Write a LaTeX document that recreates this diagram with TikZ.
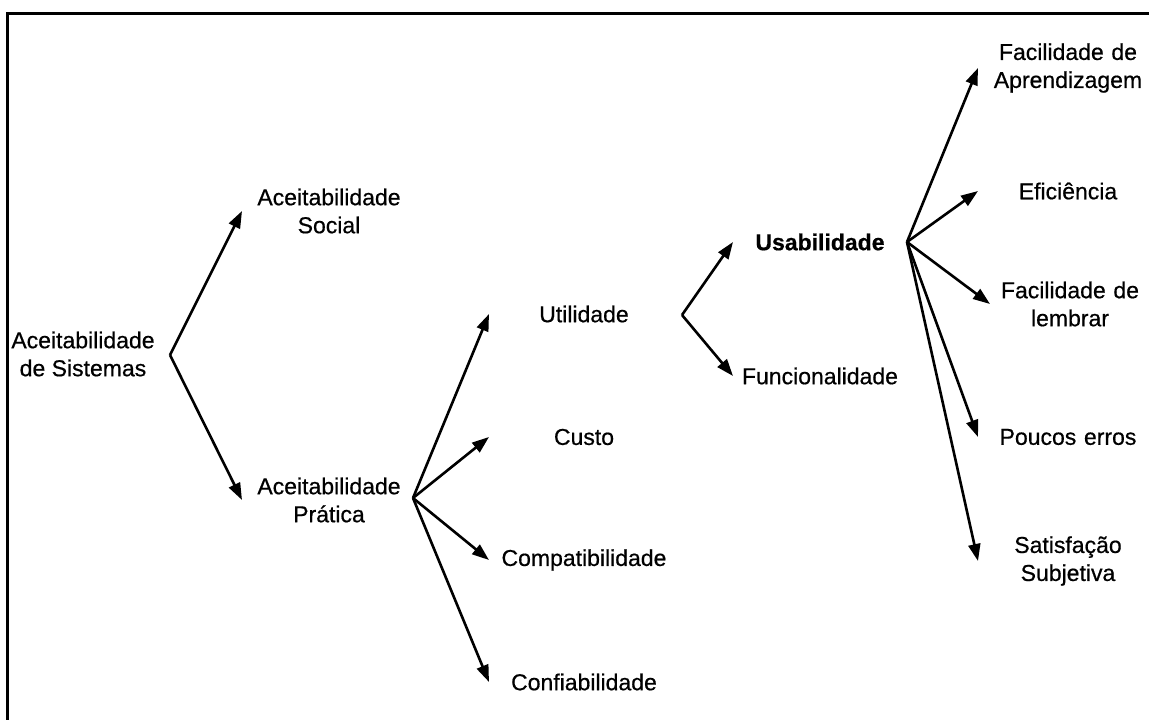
\documentclass[tikz,border=0pt]{standalone}
\usepackage{fontspec}
\setmainfont{Liberation Sans}[FakeBold=0.6]
\usetikzlibrary{arrows.meta}
\begin{document}
\begin{tikzpicture}[x=1pt,y=-1pt,
  txt/.style={font=\fontsize{23}{28}\selectfont},
  every node/.style={txt, inner sep=0pt, outer sep=0pt, align=center},
  col/.style={text width=#1},
  branch/.style={line width=2.6pt, -{Triangle[length=17pt,width=12pt]}},
  frame/.style={line width=3pt}]
\useasboundingbox (0,0) rectangle (1149,720);
% outer frame, running off the right and bottom edges
\begin{scope}
  \clip (0,0) rectangle (1149,720);
  \draw[frame] (7,13) rectangle (1170,740);
\end{scope}

% root
\node (sis) at (83,354) {Aceitabilidade\\de Sistemas};
% first level
\node[col=174] (social)  at (329,211) {Aceitabilidade\\Social};
\node[col=174] (pratica) at (329,500) {Aceitabilidade\\Prática};
% practical acceptability
\node[col=190] (util)   at (584,314) {Utilidade};
\node[col=190] (custo)  at (584,437) {Custo};
\node[col=190] (compat) at (584,560) {Compatibilidade};
\node[col=190] (conf)   at (584,682) {Confiabilidade};
% utility
\node[col=174, font=\fontsize{23}{28}\selectfont\bfseries] (usab) at (820,242) {Usabilidade};
\node[col=174] (func) at (820,376) {Funcionalidade};
% usability attributes
\node[col=180] (apren) at (1068,68)  {Facilidade de\\Aprendizagem};
\node[col=180] (efic)  at (1068,191) {Eficiência};
\node[col=160] (lemb)  at (1070,304) {Facilidade de\\lembrar};
\node[col=180] (erros) at (1068,437) {Poucos erros};
\node[col=180] (satis) at (1068,561) {Satisfação\\Subjetiva};

% branching points
\coordinate (h0) at (170,355);
\coordinate (h1) at (413,498);
\coordinate (h2) at (682,315);
\coordinate (h3) at (907,242);

\draw[branch] (h0) -- (social.west);
\draw[branch] (h0) -- (pratica.west);

\draw[branch] (h1) -- (util.west);
\draw[branch] (h1) -- (custo.west);
\draw[branch] (h1) -- (compat.west);
\draw[branch] (h1) -- (conf.west);

\draw[branch] (h2) -- (usab.west);
\draw[branch] (h2) -- (func.west);

\draw[branch] (h3) -- (apren.west);
\draw[branch] (h3) -- (efic.west);
\draw[branch] (h3) -- (lemb.west);
\draw[branch] (h3) -- (erros.west);
\draw[branch] (h3) -- (satis.west);
\end{tikzpicture}
\end{document}
